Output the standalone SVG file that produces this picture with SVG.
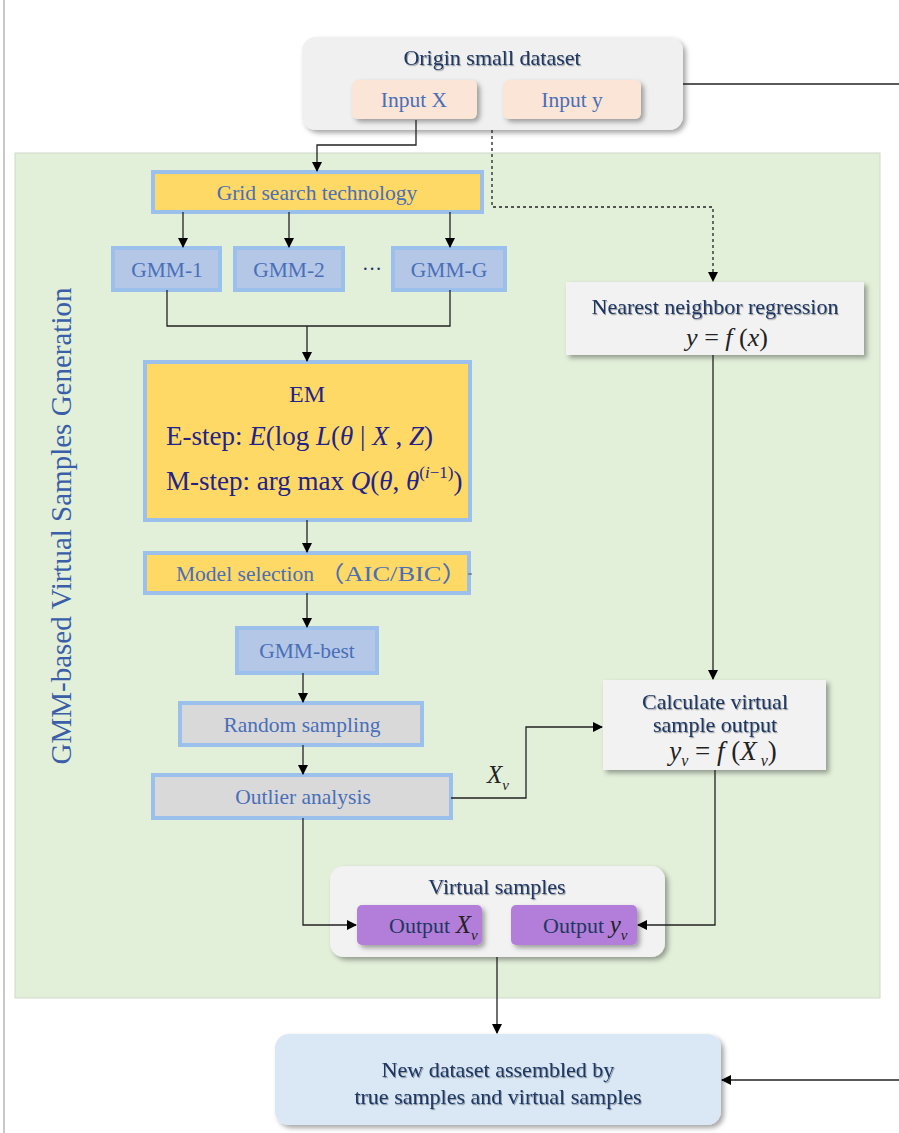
<svg xmlns="http://www.w3.org/2000/svg" width="899" height="1133" viewBox="0 0 899 1133">
<defs>
<filter id="sh" x="-10%" y="-20%" width="125%" height="150%"><feDropShadow dx="3" dy="3" stdDeviation="2.5" flood-color="#000" flood-opacity="0.35"/></filter>
<filter id="ts" x="-5%" y="-20%" width="110%" height="150%"><feDropShadow dx="1" dy="1.2" stdDeviation="0.7" flood-color="#000" flood-opacity="0.35"/></filter>
<marker id="ah" markerWidth="10" markerHeight="10" refX="9" refY="5" orient="auto" markerUnits="userSpaceOnUse"><path d="M0,0 L10,5 L0,10 z" fill="#000"/></marker>
<style>
text{font-family:"Liberation Serif","Times New Roman","Noto Sans CJK SC",serif;}
.t{font-size:21.5px;fill:#4a6fb8;text-anchor:middle;}
.h{font-size:22px;fill:#1f3763;text-anchor:middle;}
.em{font-size:27px;fill:#23238a;}
.m{font-style:italic;}
.ln{fill:none;stroke:#222;stroke-width:1.3;}
.glow{stroke:#9cc0ec;stroke-width:4;}
.yel{fill:#ffd966;}
.blu{fill:#b4c7e7;}
.gry{fill:#d9d9d9;}
.pur{fill:#b27ed9;}
</style>
</defs>
<rect width="899" height="1133" fill="#fff"/>
<line x1="4" y1="0" x2="4" y2="1133" stroke="#c8c8c8" stroke-width="2"/>

<g id="panel">
<rect x="15" y="153" width="865" height="845" fill="#e2efd9" stroke="#d0d8cc" stroke-width="1"/>
<text transform="translate(71,526) rotate(-90)" font-size="29" fill="#3a5ea8" text-anchor="middle">GMM-based Virtual Samples Generation</text>
</g>

<g id="origin">
<rect x="302" y="37" width="381" height="93" rx="14" fill="#f0f0f0" filter="url(#sh)"/>
<text class="h" x="492" y="65" filter="url(#ts)">Origin small dataset</text>
</g>
<g id="inputX">
<rect x="352" y="80" width="125" height="39" rx="6" fill="#fbe5d6" filter="url(#sh)"/>
<text class="t" x="414" y="107">Input X</text>
</g>
<g id="inputY">
<rect x="503" y="80" width="138" height="39" rx="6" fill="#fbe5d6" filter="url(#sh)"/>
<text class="t" x="572" y="107">Input y</text>
</g>

<g id="grid">
<rect x="153" y="172" width="329" height="40" class="yel glow"/>
<text class="t" x="317" y="200">Grid search technology</text>
</g>
<g id="gmm1">
<rect x="113" y="248" width="107" height="42" class="blu glow"/>
<text class="t" x="167" y="277">GMM-1</text>
</g>
<g id="gmm2">
<rect x="235" y="248" width="108" height="42" class="blu glow"/>
<text class="t" x="289" y="277">GMM-2</text>
</g>
<text x="372" y="276" font-size="20" fill="#1f3763" text-anchor="middle">···</text>
<g id="gmmG">
<rect x="393" y="248" width="112" height="42" class="blu glow"/>
<text class="t" x="449" y="277">GMM-G</text>
</g>

<g id="em">
<rect x="145" y="362" width="325" height="158" class="yel glow"/>
<text x="307" y="402" font-size="24" fill="#23238a" text-anchor="middle">EM</text>
<text class="em" x="166" y="445">E-step:  <tspan class="m">E</tspan>(log <tspan class="m">L</tspan>(<tspan class="m">θ</tspan> | <tspan class="m">X</tspan> , <tspan class="m">Z</tspan>)</text>
<text class="em" x="166" y="490">M-step:  arg max <tspan class="m">Q</tspan>(<tspan class="m">θ</tspan>, <tspan class="m">θ</tspan><tspan font-size="17" dy="-12">(<tspan class="m">i</tspan>−1)</tspan><tspan dy="12">)</tspan></text>
</g>

<g id="modelsel">
<rect x="145" y="553" width="324" height="40" class="yel glow"/>
<text x="176" y="581" font-size="21.5" fill="#4a6fb8">Model selection</text>
<text x="318" y="581" font-size="22" fill="#4a6fb8" textLength="150" lengthAdjust="spacingAndGlyphs">（AIC/BIC）</text>
<line x1="468" y1="574" x2="472" y2="574" stroke="#555" stroke-width="1"/>
</g>
<g id="gmmbest">
<rect x="237" y="628" width="140" height="45" class="blu glow"/>
<text class="t" x="307" y="658">GMM-best</text>
</g>
<g id="random">
<rect x="180" y="703" width="242" height="42" class="gry glow"/>
<text class="t" x="302" y="732">Random sampling</text>
</g>
<g id="outlier">
<rect x="153" y="775" width="298" height="43" class="gry glow"/>
<text class="t" x="303" y="804">Outlier analysis</text>
</g>

<g id="nn">
<rect x="566" y="282" width="298" height="73" fill="#f2f2f2" filter="url(#sh)"/>
<text class="h" x="715" y="314" filter="url(#ts)">Nearest neighbor regression</text>
<text x="727" y="346" font-size="26" fill="#222" text-anchor="middle"><tspan class="m">y</tspan> = <tspan class="m">f</tspan> (<tspan class="m">x</tspan>)</text>
</g>
<g id="calc">
<rect x="603" y="680" width="223" height="90" fill="#f2f2f2" filter="url(#sh)"/>
<text class="h" x="715" y="709" filter="url(#ts)">Calculate virtual</text>
<text class="h" x="715" y="732" filter="url(#ts)">sample output</text>
<text x="723" y="760" font-size="27" fill="#222" text-anchor="middle"><tspan class="m">y</tspan><tspan class="m" font-size="16" dy="6">v</tspan><tspan dy="-6"> = </tspan><tspan class="m">f</tspan> (<tspan class="m">X</tspan><tspan class="m" font-size="16" dy="6"> v</tspan><tspan dy="-6">)</tspan></text>
</g>

<g id="virtual">
<rect x="330" y="866" width="335" height="91" rx="14" fill="#f2f2f2" filter="url(#sh)"/>
<text class="h" x="497" y="894" filter="url(#ts)">Virtual samples</text>
</g>
<g id="outX">
<rect x="357" y="905" width="125" height="40" rx="5" class="pur" filter="url(#sh)"/>
<text x="389" y="933" font-size="22" fill="#1f3763">Output <tspan class="m" font-size="25" fill="#222">X</tspan><tspan class="m" font-size="15" fill="#222" dy="7">v</tspan></text>
</g>
<g id="outY">
<rect x="511" y="905" width="126" height="40" rx="5" class="pur" filter="url(#sh)"/>
<text x="543" y="933" font-size="22" fill="#1f3763">Output  <tspan class="m" font-size="25" fill="#222">y</tspan><tspan class="m" font-size="15" fill="#222" dy="7">v</tspan></text>
</g>

<g id="newdata">
<rect x="275" y="1034" width="446" height="91" rx="14" fill="#dae8f5" filter="url(#sh)"/>
<text class="h" x="498" y="1077" filter="url(#ts)">New dataset assembled by</text>
<text class="h" x="498" y="1104" filter="url(#ts)">true samples and virtual samples</text>
</g>

<g id="connectors">
<path class="ln" d="M683,84 H899"/>
<path class="ln" d="M416,120 V145 H317 V171" marker-end="url(#ah)"/>
<path class="ln" d="M492,130 V207 H713 V281" stroke-dasharray="3,3" marker-end="url(#ah)"/>
<path class="ln" d="M183,212 V247" marker-end="url(#ah)"/>
<path class="ln" d="M289,212 V247" marker-end="url(#ah)"/>
<path class="ln" d="M450,212 V247" marker-end="url(#ah)"/>
<path class="ln" d="M167,290 V326 H450 V290"/>
<path class="ln" d="M307,326 V361" marker-end="url(#ah)"/>
<path class="ln" d="M307,520 V552" marker-end="url(#ah)"/>
<path class="ln" d="M307,593 V627" marker-end="url(#ah)"/>
<path class="ln" d="M303,673 V702" marker-end="url(#ah)"/>
<path class="ln" d="M303,745 V774" marker-end="url(#ah)"/>
<path class="ln" d="M451,798 H526 V727 H602" marker-end="url(#ah)"/>
<text x="487" y="783" font-size="25" fill="#222" font-style="italic">X<tspan font-size="15" dy="7">v</tspan></text>
<path class="ln" d="M713,355 V679" marker-end="url(#ah)"/>
<path class="ln" d="M715,770 V925 H638" marker-end="url(#ah)"/>
<path class="ln" d="M303,818 V925 H356" marker-end="url(#ah)"/>
<path class="ln" d="M497,957 V1033" marker-end="url(#ah)"/>
<path class="ln" d="M899,1080 H722" marker-end="url(#ah)"/>
</g>
</svg>
